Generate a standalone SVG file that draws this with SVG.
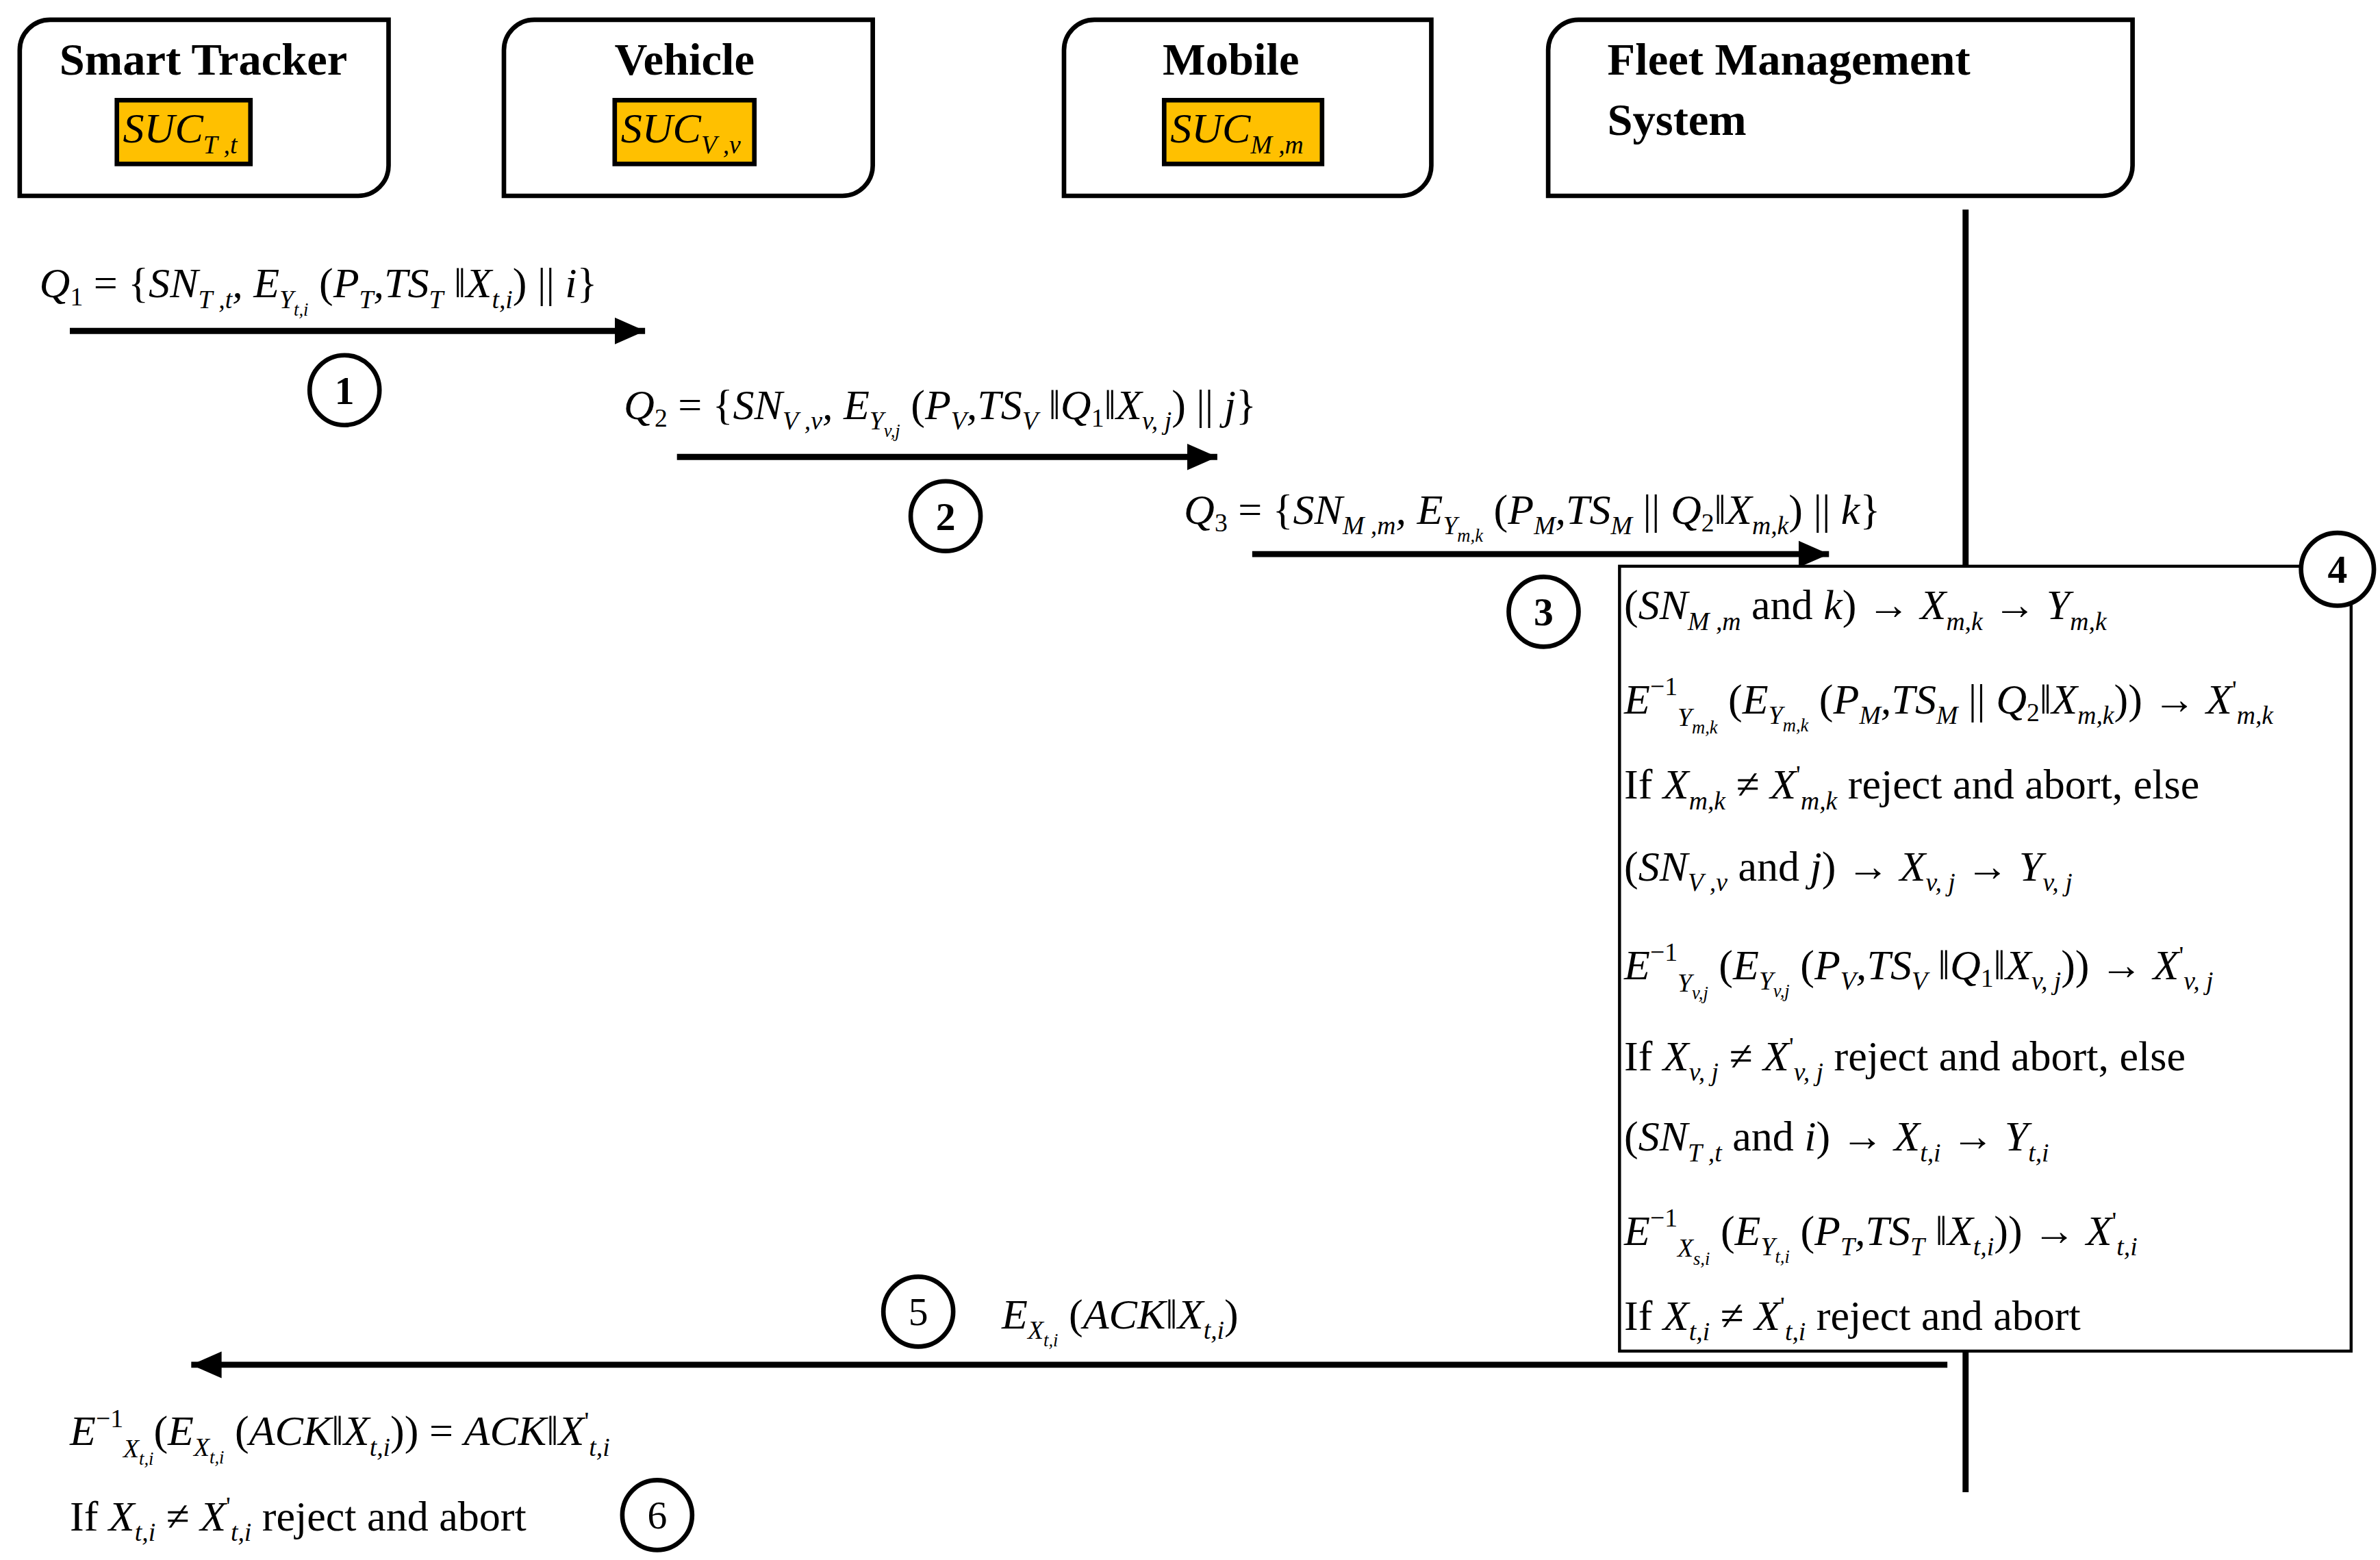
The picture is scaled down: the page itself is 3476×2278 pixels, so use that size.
<svg xmlns="http://www.w3.org/2000/svg" width="3476" height="2278" viewBox="0 0 3476 2278">
<style>
.box{fill:#fff;stroke:#000;stroke-width:3}
.suc{fill:#FFC000;stroke:#000;stroke-width:3}
.t{font-family:"Liberation Serif",serif;font-weight:bold;font-size:30px}
.m{font-family:"Liberation Serif",serif;font-style:italic;font-size:28px}
.r{font-style:normal}
.s{font-size:17px}
.ss{font-size:12px}
.ln{stroke:#000;stroke-width:4;fill:none}
.c{fill:#fff;stroke:#000;stroke-width:3}
.n{font-family:"Liberation Serif",serif;font-size:26px;text-anchor:middle}
.nb{font-weight:bold}
</style>
<defs><marker id="ah" markerWidth="6" markerHeight="6" refX="5" refY="3" orient="auto" markerUnits="strokeWidth"><path d="M0,0.8 L5,3 L0,5.2z" fill="#000"/></marker></defs>
<rect width="3476" height="2278" fill="#fff"/>
<g transform="scale(2.2168)">
<g id="tracker"><path class="box" d="M33,13 H256 V109 A20,20 0 0 1 236,129 H13 V33 A20,20 0 0 1 33,13z"/><text class="t" x="134" y="49" text-anchor="middle">Smart Tracker</text><rect class="suc" x="77" y="66" width="88" height="42"/><text class="m" x="81" y="94">SUC<tspan class="s" dy="7">T ,t</tspan></text></g>
<g id="vehicle"><path class="box" d="M352,13 H575 V109 A20,20 0 0 1 555,129 H332 V33 A20,20 0 0 1 352,13z"/><text class="t" x="451" y="49" text-anchor="middle">Vehicle</text><rect class="suc" x="405" y="66" width="92" height="42"/><text class="m" x="409" y="94">SUC<tspan class="s" dy="7">V ,v</tspan></text></g>
<g id="mobile"><path class="box" d="M721,13 H943 V109 A20,20 0 0 1 923,129 H701 V33 A20,20 0 0 1 721,13z"/><text class="t" x="811" y="49" text-anchor="middle">Mobile</text><rect class="suc" x="767" y="66" width="104" height="42"/><text class="m" x="771" y="94">SUC<tspan class="s" dy="7">M ,m</tspan></text></g>
<g id="fms"><path class="box" d="M1040,13 H1405 V109 A20,20 0 0 1 1385,129 H1020 V33 A20,20 0 0 1 1040,13z"/><text class="t" x="1059" y="49">Fleet Management</text><text class="t" x="1059" y="89">System</text></g>
<g id="connectors">
<line class="ln" x1="1295" y1="138" x2="1295" y2="373"/>
<line class="ln" x1="1295" y1="890" x2="1295" y2="983"/>
<line class="ln" x1="46" y1="218" x2="425" y2="218" marker-end="url(#ah)"/>
<line class="ln" x1="446" y1="301" x2="802" y2="301" marker-end="url(#ah)"/>
<line class="ln" x1="825" y1="365" x2="1205" y2="365" marker-end="url(#ah)"/>
<line class="ln" x1="1283" y1="899" x2="126" y2="899" marker-end="url(#ah)"/>
</g>
<g id="labels">
<text class="m" x="26" y="196">Q<tspan class="s r" dy="5">1</tspan><tspan class="r" dy="-5"> = {</tspan>SN<tspan class="s" dy="7">T ,t</tspan><tspan dy="-7">,  E</tspan><tspan class="s" dy="7">Y</tspan><tspan class="ss" dy="5">t,i</tspan><tspan class="r" dy="-12"> (</tspan>P<tspan class="s" dy="7">T</tspan><tspan dy="-7">,TS</tspan><tspan class="s" dy="7">T</tspan><tspan class="r" dy="-7"> ‖</tspan>X<tspan class="s" dy="7">t,i</tspan><tspan class="r" dy="-7">) || </tspan>i<tspan class="r">}</tspan></text>
<text class="m" x="411" y="276">Q<tspan class="s r" dy="5">2</tspan><tspan class="r" dy="-5"> = {</tspan>SN<tspan class="s" dy="7">V ,v</tspan><tspan dy="-7">, E</tspan><tspan class="s" dy="7">Y</tspan><tspan class="ss" dy="5">v,j</tspan><tspan class="r" dy="-12"> (</tspan>P<tspan class="s" dy="7">V</tspan><tspan dy="-7">,TS</tspan><tspan class="s" dy="7">V</tspan><tspan class="r" dy="-7"> ‖</tspan>Q<tspan class="s r" dy="5">1</tspan><tspan class="r" dy="-5">‖</tspan>X<tspan class="s" dy="7">v, j</tspan><tspan class="r" dy="-7">) || </tspan>j<tspan class="r">}</tspan></text>
<text class="m" x="780" y="345">Q<tspan class="s r" dy="5">3</tspan><tspan class="r" dy="-5"> = {</tspan>SN<tspan class="s" dy="7">M ,m</tspan><tspan dy="-7">, E</tspan><tspan class="s" dy="7">Y</tspan><tspan class="ss" dy="5">m,k</tspan><tspan class="r" dy="-12"> (</tspan>P<tspan class="s" dy="7">M</tspan><tspan dy="-7">,TS</tspan><tspan class="s" dy="7">M</tspan><tspan class="r" dy="-7"> || </tspan>Q<tspan class="s r" dy="5">2</tspan><tspan class="r" dy="-5">‖</tspan>X<tspan class="s" dy="7">m,k</tspan><tspan class="r" dy="-7">) || </tspan>k<tspan class="r">}</tspan></text>
<text class="m" x="660" y="875">E<tspan class="s" dy="7">X</tspan><tspan class="ss" dy="5">t,i</tspan><tspan class="r" dy="-12"> (</tspan>ACK<tspan class="r">‖</tspan>X<tspan class="s" dy="7">t,i</tspan><tspan class="r" dy="-7">)</tspan></text>
<text class="m" x="46" y="952">E<tspan class="s r" dy="-12">−1</tspan><tspan class="s" dy="20">X</tspan><tspan class="ss" dy="5">t,i</tspan><tspan class="r" dy="-13">(</tspan>E<tspan class="s" dy="7">X</tspan><tspan class="ss" dy="5">t,i</tspan><tspan class="r" dy="-12"> (</tspan>ACK<tspan class="r">‖</tspan>X<tspan class="s" dy="7">t,i</tspan><tspan class="r" dy="-7">)) = </tspan>ACK<tspan class="r">‖</tspan>X<tspan class="s r" dy="-10">'</tspan><tspan class="s" dy="17">t,i</tspan></text>
<text class="m" x="46" y="1008"><tspan class="r">If </tspan>X<tspan class="s" dy="7">t,i</tspan><tspan class="r" dy="-7"> ≠ </tspan>X<tspan class="s r" dy="-10">'</tspan><tspan class="s" dy="17">t,i</tspan><tspan class="r" dy="-7">  reject and abort</tspan></text>
</g>
<g id="verify">
<rect x="1067" y="373" width="482" height="517" fill="#fff" stroke="#000" stroke-width="2"/>
<text class="m" x="1070" y="408"><tspan class="r">(</tspan>SN<tspan class="s" dy="7">M ,m</tspan><tspan class="r" dy="-7">  and </tspan>k<tspan class="r">) → </tspan>X<tspan class="s" dy="7">m,k</tspan><tspan class="r" dy="-7"> → </tspan>Y<tspan class="s" dy="7">m,k</tspan></text>
<text class="m" x="1070" y="470">E<tspan class="s r" dy="-12">−1</tspan><tspan class="s" dy="20">Y</tspan><tspan class="ss" dy="5">m,k</tspan><tspan class="r" dy="-13"> (</tspan>E<tspan class="s" dy="7">Y</tspan><tspan class="ss" dy="5">m,k</tspan><tspan class="r" dy="-12"> (</tspan>P<tspan class="s" dy="7">M</tspan><tspan dy="-7">,TS</tspan><tspan class="s" dy="7">M</tspan><tspan class="r" dy="-7"> || </tspan>Q<tspan class="s r" dy="5">2</tspan><tspan class="r" dy="-5">‖</tspan>X<tspan class="s" dy="7">m,k</tspan><tspan class="r" dy="-7">)) → </tspan>X<tspan class="s r" dy="-10">'</tspan><tspan class="s" dy="17">m,k</tspan></text>
<text class="m" x="1070" y="526"><tspan class="r">If </tspan>X<tspan class="s" dy="7">m,k</tspan><tspan class="r" dy="-7"> ≠ </tspan>X<tspan class="s r" dy="-10">'</tspan><tspan class="s" dy="17">m,k</tspan><tspan class="r" dy="-7">  reject and abort, else</tspan></text>
<text class="m" x="1070" y="580"><tspan class="r">(</tspan>SN<tspan class="s" dy="7">V ,v</tspan><tspan class="r" dy="-7">  and </tspan>j<tspan class="r">) → </tspan>X<tspan class="s" dy="7">v, j</tspan><tspan class="r" dy="-7"> → </tspan>Y<tspan class="s" dy="7">v, j</tspan></text>
<text class="m" x="1070" y="645">E<tspan class="s r" dy="-12">−1</tspan><tspan class="s" dy="20">Y</tspan><tspan class="ss" dy="5">v,j</tspan><tspan class="r" dy="-13"> (</tspan>E<tspan class="s" dy="7">Y</tspan><tspan class="ss" dy="5">v,j</tspan><tspan class="r" dy="-12"> (</tspan>P<tspan class="s" dy="7">V</tspan><tspan dy="-7">,TS</tspan><tspan class="s" dy="7">V</tspan><tspan class="r" dy="-7"> ‖</tspan>Q<tspan class="s r" dy="5">1</tspan><tspan class="r" dy="-5">‖</tspan>X<tspan class="s" dy="7">v, j</tspan><tspan class="r" dy="-7">)) → </tspan>X<tspan class="s r" dy="-10">'</tspan><tspan class="s" dy="17">v, j</tspan></text>
<text class="m" x="1070" y="705"><tspan class="r">If </tspan>X<tspan class="s" dy="7">v, j</tspan><tspan class="r" dy="-7"> ≠ </tspan>X<tspan class="s r" dy="-10">'</tspan><tspan class="s" dy="17">v, j</tspan><tspan class="r" dy="-7">  reject and abort, else</tspan></text>
<text class="m" x="1070" y="758"><tspan class="r">(</tspan>SN<tspan class="s" dy="7">T ,t</tspan><tspan class="r" dy="-7">  and </tspan>i<tspan class="r">) → </tspan>X<tspan class="s" dy="7">t,i</tspan><tspan class="r" dy="-7"> → </tspan>Y<tspan class="s" dy="7">t,i</tspan></text>
<text class="m" x="1070" y="820">E<tspan class="s r" dy="-12">−1</tspan><tspan class="s" dy="20">X</tspan><tspan class="ss" dy="5">s,i</tspan><tspan class="r" dy="-13"> (</tspan>E<tspan class="s" dy="7">Y</tspan><tspan class="ss" dy="5">t,i</tspan><tspan class="r" dy="-12"> (</tspan>P<tspan class="s" dy="7">T</tspan><tspan dy="-7">,TS</tspan><tspan class="s" dy="7">T</tspan><tspan class="r" dy="-7"> ‖</tspan>X<tspan class="s" dy="7">t,i</tspan><tspan class="r" dy="-7">)) → </tspan>X<tspan class="s r" dy="-10">'</tspan><tspan class="s" dy="17">t,i</tspan></text>
<text class="m" x="1070" y="876"><tspan class="r">If </tspan>X<tspan class="s" dy="7">t,i</tspan><tspan class="r" dy="-7"> ≠ </tspan>X<tspan class="s r" dy="-10">'</tspan><tspan class="s" dy="17">t,i</tspan><tspan class="r" dy="-7">  reject and abort</tspan></text>
</g>
<g id="steps">
<circle class="c" cx="227" cy="257" r="23"/><text class="n nb" x="227" y="266">1</text>
<circle class="c" cx="623" cy="340" r="23"/><text class="n nb" x="623" y="349">2</text>
<circle class="c" cx="1017" cy="403" r="23"/><text class="n nb" x="1017" y="412">3</text>
<circle class="c" cx="1540" cy="375" r="24"/><text class="n nb" x="1540" y="384">4</text>
<circle class="c" cx="605" cy="864" r="23"/><text class="n" x="605" y="873">5</text>
<circle class="c" cx="433" cy="998" r="23"/><text class="n" x="433" y="1007">6</text>
</g>
</g>
</svg>
